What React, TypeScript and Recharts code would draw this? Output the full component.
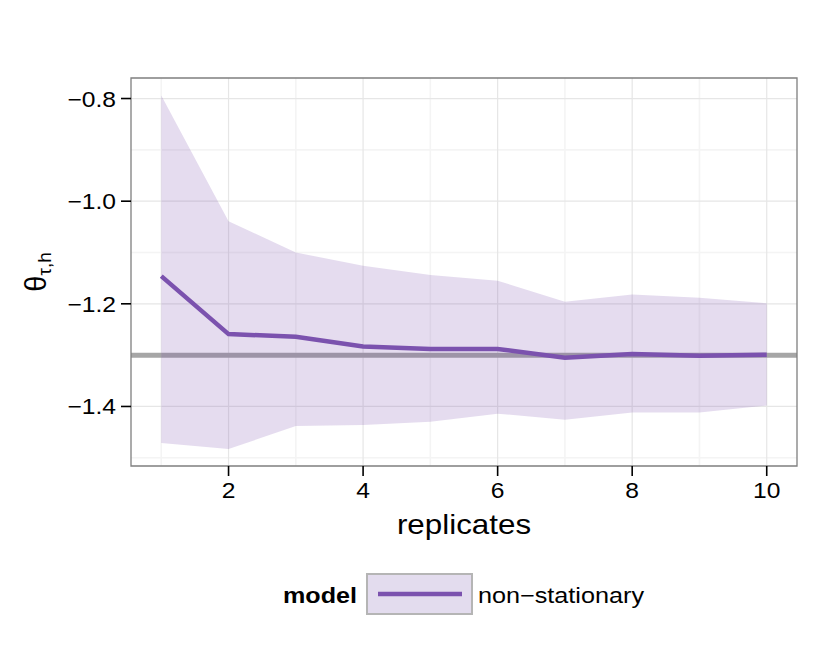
import React from 'react';
import {
  ComposedChart,
  Area,
  Line,
  XAxis,
  YAxis,
  CartesianGrid,
  ReferenceArea,
  Legend,
  Label,
} from 'recharts';

const replicates = [1, 2, 3, 4, 5, 6, 7, 8, 9, 10];
const meanValues = [-1.146, -1.259, -1.264, -1.283, -1.288, -1.288, -1.305, -1.298, -1.301, -1.299];
const upperValues = [-0.794, -1.039, -1.1, -1.126, -1.144, -1.155, -1.196, -1.182, -1.188, -1.199];
const lowerValues = [-1.471, -1.483, -1.438, -1.436, -1.43, -1.414, -1.426, -1.412, -1.412, -1.398];
const referenceValue = -1.3;

const xTicks = [2, 4, 6, 8, 10];
const xMinor = [1, 3, 5, 7, 9];
const yTicks = [-1.4, -1.2, -1.0, -0.8];
const yMinor = [-1.5, -1.3, -1.1, -0.9];
const xDomain = [0.55, 10.45];
const yDomain = [-1.516, -0.76];

const seriesName = 'non\u2212stationary';
const legendTitle = 'model';
const xLabel = 'replicates';

const PURPLE = '#7B52AE';
const FONT = '"Liberation Sans", Arial, Helvetica, sans-serif';
const SX = 1.12;

const data = replicates.map((r, i) => ({
  replicate: r,
  mean: meanValues[i],
  band: [lowerValues[i], upperValues[i]],
}));

const fmtY = (v: number) => v.toFixed(1).replace('-', '\u2212');

const XTick = (props: any) => {
  const { x, y, payload } = props;
  return (
    <g transform={`translate(${x},${y})`}>
      <text transform={`scale(${SX},1)`} x={0} y={0} dy={17} textAnchor="middle" fontFamily={FONT} fontSize={22} fill="#000">
        {String(payload.value)}
      </text>
    </g>
  );
};

const YTick = (props: any) => {
  const { x, y, payload } = props;
  return (
    <g transform={`translate(${x},${y})`}>
      <text transform={`scale(${SX},1)`} x={0} y={0} dy={8} textAnchor="end" fontFamily={FONT} fontSize={22} fill="#000">
        {fmtY(payload.value)}
      </text>
    </g>
  );
};

const LegendContent = () => (
  <svg width={830} height={60} style={{ display: 'block' }}>
    <text x={283} y={33} textLength={74} lengthAdjust="spacingAndGlyphs" fontFamily={FONT} fontSize={22} fontWeight="bold" fill="#000">
      {legendTitle}
    </text>
    <rect x={367} y={4} width={105} height={40} fill="#e3dcee" stroke="#b5b5b5" strokeWidth={2} />
    <line x1={378} x2={462} y1={24} y2={24} stroke={PURPLE} strokeWidth={4.5} />
    <text x={478} y={33} textLength={166} lengthAdjust="spacingAndGlyphs" fontFamily={FONT} fontSize={22} fill="#000">
      {seriesName}
    </text>
  </svg>
);

const YLabel = (props: any) => {
  const vb = props.viewBox || { x: 10, y: 78, width: 121, height: 388 };
  const cx = vb.x + 36;
  const cy = vb.y + vb.height / 2;
  return (
    <text
      x={cx}
      y={cy}
      transform={`rotate(-90, ${cx}, ${cy})`}
      textAnchor="middle"
      fontFamily={FONT}
      fill="#000"
      fontSize={29}
    >
      θ
      <tspan fontSize={19} dy={5}>
        τ,h
      </tspan>
    </text>
  );
};

const XLabel = (props: any) => {
  const vb = props.viewBox || { x: 131, y: 466, width: 666, height: 80 };
  const cx = vb.x + vb.width / 2;
  const cy = vb.y + 68;
  return (
    <g transform={`translate(${cx},${cy})`}>
      <text transform={`scale(${SX},1)`} x={0} y={0} textAnchor="middle" fontFamily={FONT} fontSize={28} fill="#000">
        {xLabel}
      </text>
    </g>
  );
};

export default function App() {
  return (
    <div style={{ position: 'absolute', left: 0, top: 0, width: 830, height: 664, background: '#fff' }}>
      <ComposedChart
        width={830}
        height={664}
        data={data}
        margin={{ top: 78, right: 33, bottom: 58, left: 10 }}
      >
        <CartesianGrid
          horizontalValues={yMinor}
          verticalValues={xMinor}
          stroke="#f4f4f4"
          strokeWidth={1.6}
        />
        <CartesianGrid
          horizontalValues={yTicks}
          verticalValues={xTicks}
          stroke="#e6e6e6"
          strokeWidth={1.2}
        />
        <CartesianGrid
          horizontalValues={[referenceValue]}
          vertical={false}
          stroke="#a6a6a6"
          strokeWidth={5}
        />
        <XAxis
          dataKey="replicate"
          type="number"
          domain={xDomain}
          ticks={xTicks}
          allowDataOverflow
          axisLine={false}
          tickLine={{ stroke: '#000', strokeWidth: 1.6 }}
          tickSize={10}
          tickMargin={5}
          height={80}
          tick={XTick}
        >
          <Label content={XLabel} />
        </XAxis>
        <YAxis
          type="number"
          domain={yDomain}
          ticks={yTicks}
          allowDataOverflow
          axisLine={false}
          tickLine={{ stroke: '#000', strokeWidth: 1.6 }}
          tickSize={10}
          tickMargin={5}
          width={121}
          tick={YTick}
        >
          <Label content={YLabel} />
        </YAxis>
        <Area
          dataKey="band"
          type="linear"
          stroke="none"
          fill={PURPLE}
          fillOpacity={0.2}
          isAnimationActive={false}
          activeDot={false}
          legendType="none"
        />
        <Line
          dataKey="mean"
          type="linear"
          stroke={PURPLE}
          strokeWidth={4.5}
          dot={false}
          activeDot={false}
          isAnimationActive={false}
          name={seriesName}
        />
        <ReferenceArea
          x1={xDomain[0]}
          x2={xDomain[1]}
          y1={yDomain[0]}
          y2={yDomain[1]}
          fill="none"
          stroke="#7f7f7f"
          strokeWidth={1.3}
          ifOverflow="visible"
        />
        <Legend
          content={LegendContent}
          wrapperStyle={{ position: 'absolute', left: 0, top: 570, width: 830, height: 60 }}
        />
      </ComposedChart>
    </div>
  );
}
